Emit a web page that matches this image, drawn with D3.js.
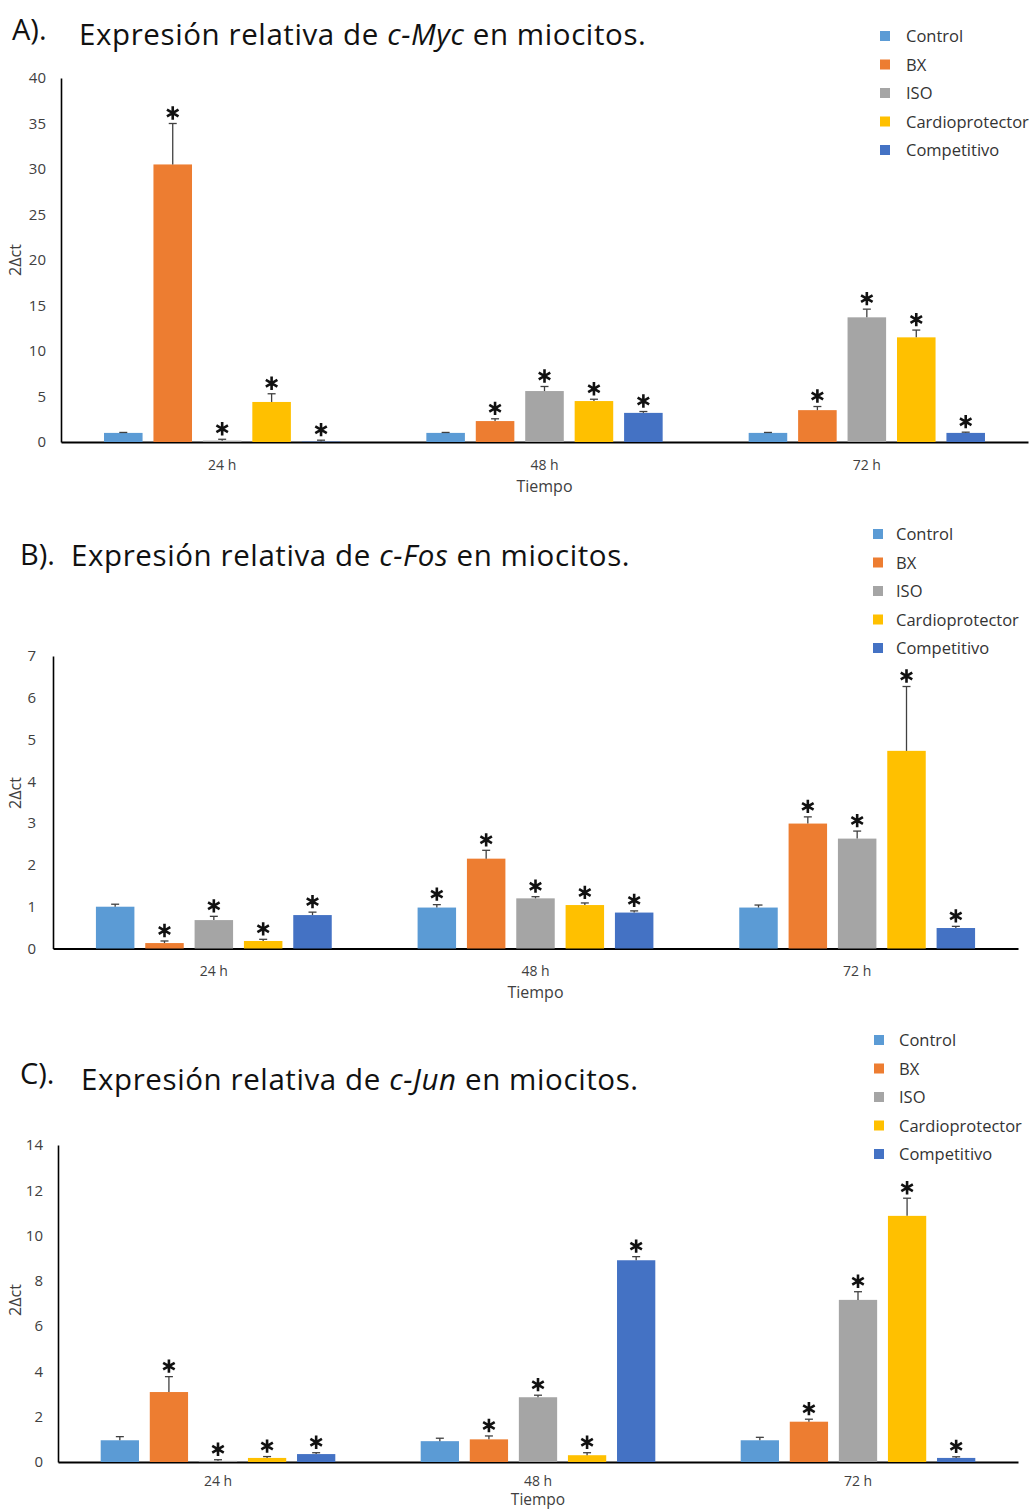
<!DOCTYPE html>
<html>
<head>
<meta charset="utf-8">
<script src="https://cdn.jsdelivr.net/npm/d3@7"></script>
<style>
  html, body { margin: 0; padding: 0; background: #fff; }
  svg { display: block; }
  text { font-family: "Open Sans", "Noto Sans", sans-serif; }
</style>
</head>
<body>
<svg id="fig" width="1034" height="1509"></svg>
<script>
// Groups and time points
const times = ["24 h", "48 h", "72 h"];
const series = ["Control", "BX", "ISO", "Cardioprotector", "Competitivo"];
const seriesColors = ["#5B9BD5", "#ED7D31", "#A5A5A5", "#FFC000", "#4472C4"];

// c-Myc: mean and SD per time point (rows) and group (columns)
const mycMean = [[1.0, 30.5, 0.15, 4.4, 0.05], [1.0, 2.3, 5.6, 4.5, 3.2], [1.0, 3.5, 13.7, 11.5, 1.0]];
const mycSd   = [[0.05, 4.5, 0.15, 0.9, 0.15], [0.05, 0.25, 0.5, 0.2, 0.15], [0.05, 0.4, 0.9, 0.8, 0.08]];
const mycSig  = [[0, 1, 1, 1, 1], [0, 1, 1, 1, 1], [0, 1, 1, 1, 1]];
const mycTicks = [0, 5, 10, 15, 20, 25, 30, 35, 40];

// c-Fos
const fosMean = [[1.0, 0.13, 0.68, 0.18, 0.8], [0.98, 2.15, 1.2, 1.04, 0.86], [0.98, 2.99, 2.63, 4.73, 0.49]];
const fosSd   = [[0.06, 0.05, 0.09, 0.04, 0.07], [0.07, 0.2, 0.04, 0.05, 0.04], [0.06, 0.16, 0.18, 1.54, 0.04]];
const fosSig  = [[0, 1, 1, 1, 1], [1, 1, 1, 1, 1], [0, 1, 1, 1, 1]];
const fosTicks = [0, 1, 2, 3, 4, 5, 6, 7];

// c-Jun
const junMean = [[0.96, 3.09, 0.05, 0.18, 0.35], [0.92, 1.0, 2.86, 0.3, 8.91], [0.96, 1.78, 7.16, 10.87, 0.18]];
const junSd   = [[0.16, 0.68, 0.05, 0.06, 0.06], [0.13, 0.15, 0.09, 0.11, 0.16], [0.13, 0.11, 0.36, 0.78, 0.05]];
const junSig  = [[0, 1, 1, 1, 1], [0, 1, 1, 1, 1], [0, 1, 1, 1, 1]];
const junTicks = [0, 2, 4, 6, 8, 10, 12, 14];

const svg = d3.select("#fig");
const star = d3.symbol().type(d3.symbolAsterisk).size(125);

function panel(cfg) {
  const g = svg.append("g");
  const x = d3.scaleBand().domain(times).range([cfg.x0, cfg.x1]).paddingInner(0).paddingOuter(0);
  const xs = d3.scaleBand().domain(series).range([0, x.bandwidth()]).paddingInner(0.22).paddingOuter(0.87);
  const y = d3.scaleLinear().domain([0, cfg.max]).range([cfg.yBase, cfg.yTop]);

  // Title
  g.append("text").attr("x", cfg.letterX).attr("y", cfg.letterY)
    .attr("font-size", 29).attr("fill", "#111").text(cfg.letter);
  const t = g.append("text").attr("x", cfg.titleX).attr("y", cfg.titleY)
    .attr("font-size", 29.5).attr("letter-spacing", 0.6).attr("fill", "#111");
  t.append("tspan").text("Expresión relativa de ");
  t.append("tspan").attr("font-style", "italic").text(cfg.gene);
  t.append("tspan").text(" en miocitos.");

  // Y axis: labels only, plus the spine
  const yAxis = d3.axisLeft(y).tickValues(cfg.ticks).tickFormat(d3.format("d"))
    .tickSize(0).tickPadding(cfg.tickPad);
  const ya = g.append("g").attr("transform", `translate(${cfg.x0},0)`).call(yAxis);
  ya.select(".domain").attr("stroke", "#000").attr("stroke-width", 1.6);
  ya.selectAll("text").attr("font-size", 15).attr("fill", "#404040")
    .attr("font-family", "'Open Sans', 'Noto Sans', sans-serif");

  // X axis
  const xAxis = d3.axisBottom(x).tickSize(0).tickPadding(cfg.catPad);
  const xa = g.append("g").attr("transform", `translate(0,${cfg.yBase})`).call(xAxis);
  xa.select(".domain").attr("stroke", "#000").attr("stroke-width", 2);
  xa.selectAll("text").attr("font-size", 14).attr("fill", "#404040")
    .attr("font-family", "'Open Sans', 'Noto Sans', sans-serif");

  // Axis titles
  g.append("text").attr("transform", `translate(${cfg.yLabX},${cfg.yLabY}) rotate(-90)`)
    .attr("text-anchor", "middle").attr("font-size", 16).attr("fill", "#404040").text("2\u0394ct");
  g.append("text").attr("x", x("48 h") + x.bandwidth() / 2).attr("y", cfg.xLabY)
    .attr("text-anchor", "middle").attr("font-size", cfg.xLabSize).attr("fill", "#404040").text("Tiempo");

  // Bars, error bars and significance marks
  times.forEach((tm, ti) => {
    const gx = g.append("g").attr("transform", `translate(${x(tm)},0)`);
    series.forEach((s, si) => {
      const m = cfg.mean[ti][si], sd = cfg.sd[ti][si];
      const bx = xs(s), bw = xs.bandwidth(), cx = bx + bw / 2;
      gx.append("rect").attr("x", bx).attr("y", y(m)).attr("width", bw)
        .attr("height", y(0) - y(m)).attr("fill", seriesColors[si]);
      const top = y(m + sd);
      gx.append("line").attr("x1", cx).attr("x2", cx).attr("y1", y(m)).attr("y2", top)
        .attr("stroke", "#404040").attr("stroke-width", 1.3);
      gx.append("line").attr("x1", cx - 4).attr("x2", cx + 4).attr("y1", top).attr("y2", top)
        .attr("stroke", "#404040").attr("stroke-width", 1.3);
      if (cfg.sig[ti][si]) {
        gx.append("path").attr("d", star)
          .attr("transform", `translate(${cx},${top - 10.5})`)
          .attr("fill", "none").attr("stroke", "#111").attr("stroke-width", 2.6);
      }
    });
  });

  // Legend
  const lg = g.append("g");
  series.forEach((s, si) => {
    const ly = cfg.legY + si * 28.5;
    lg.append("rect").attr("x", cfg.legX).attr("y", ly - 5).attr("width", 10).attr("height", 10)
      .attr("fill", seriesColors[si]);
    lg.append("text").attr("x", cfg.legX + cfg.legGap).attr("y", ly + 6).attr("font-size", 16.5)
      .attr("fill", "#333").text(s);
  });
}

panel({ letter: "A).", gene: "c-Myc", letterX: 12, letterY: 40, titleX: 79, titleY: 45,
  x0: 61, x1: 1028, yBase: 442, yTop: 78, max: 40, ticks: mycTicks, tickPad: 15,
  catPad: 18, yLabX: 21, yLabY: 260, xLabY: 492, xLabSize: 16,
  mean: mycMean, sd: mycSd, sig: mycSig, legX: 880, legY: 36, legGap: 26 });

panel({ letter: "B).", gene: "c-Fos", letterX: 20, letterY: 565, titleX: 71, titleY: 566,
  x0: 53, x1: 1018, yBase: 948.5, yTop: 656, max: 7, ticks: fosTicks, tickPad: 17,
  catPad: 18, yLabX: 21, yLabY: 793, xLabY: 998, xLabSize: 16,
  mean: fosMean, sd: fosSd, sig: fosSig, legX: 873, legY: 534, legGap: 23 });

panel({ letter: "C).", gene: "c-Jun", letterX: 20, letterY: 1084, titleX: 81, titleY: 1090,
  x0: 58, x1: 1018, yBase: 1462, yTop: 1145, max: 14, ticks: junTicks, tickPad: 15,
  catPad: 14, yLabX: 21, yLabY: 1300, xLabY: 1505, xLabSize: 15.5,
  mean: junMean, sd: junSd, sig: junSig, legX: 874, legY: 1040, legGap: 25 });
</script>
</body>
</html>
